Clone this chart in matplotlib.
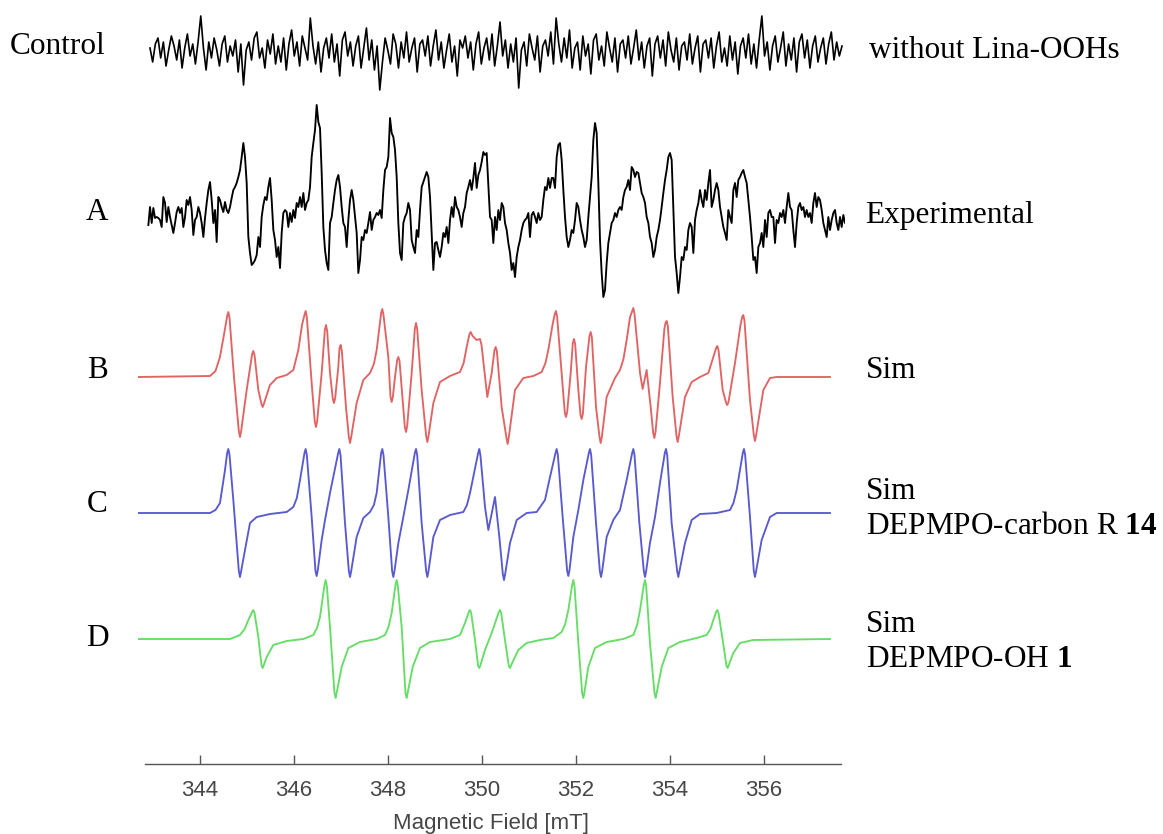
import numpy as np
import matplotlib
matplotlib.use("Agg")
import matplotlib.pyplot as plt

plt.rcParams['mathtext.fontset'] = 'custom'
plt.rcParams['mathtext.rm'] = 'Liberation Serif'
plt.rcParams['mathtext.bf'] = 'Liberation Serif:bold'

# ---------------- data (field in mT, signal in arbitrary units) ----------------
tick_values = [344, 346, 348, 350, 352, 354, 356]
x_label = "Magnetic Field [mT]"

row_letters = ["A", "B", "C", "D"]
right_labels = ["without Lina-OOHs", "Experimental", "Sim",
                "Sim\nDEPMPO-carbon R $\\mathbf{14}$", "Sim\nDEPMPO-OH $\\mathbf{1}$"]

control_start, control_stop = 342.936, 357.660
control_signal = [
    4, -10, 8, 14, -6, 10, -14, 2, 16, 6,
    -8, 12, -16, 4, 18, -4, 8, -12, 10, 36,
    4, -18, 10, -6, 14, 2, -14, 8, 16, -10,
    6, -4, 12, -20, 8, -33, 2, 10, -8, 14,
    20, -6, 4, -16, 12, -2, 18, -12, 6, -10,
    14, -18, 8, 22, -4, 10, -14, 16, 4, -8,
    34, 6, -12, 10, -20, 4, 14, -6, 18, -10,
    8, -24, 12, 20, -4, 10, -14, 6, 16, -16,
    4, 24, -8, 12, -18, 6, -38, -10, 14, 2,
    -12, 18, 8, -16, 10, -6, 20, -10, 4, 14,
    -20, 8, 12, -4, 16, -14, 6, 22, -8, 10,
    -16, 2, 18, -10, 6, -24, 12, 4, 16, -6,
    10, -18, 8, 20, -12, 4, 14, -8, 18, -14,
    6, 30, -4, 12, -16, 8, -10, 14, -36, 2,
    10, -14, 18, 4, -8, 16, -20, 6, 12, -4,
    20, -12, 34, 8, -10, 14, -6, 22, -16, 4,
    10, -18, 16, -4, 8, -22, 12, 18, -8, 6,
    -14, 20, 4, -10, 14, -20, 8, 12, -6, 16,
    -12, 4, 22, -8, 10, -16, 6, 14, -24, 8,
    16, -6, 12, -14, 20, 2, -10, 14, -18, 6,
    10, -8, 18, -12, 4, 16, -20, 8, 12, -6,
    14, -16, 6, 20, -10, 4, -14, 16, -8, 10,
    -22, 6, 14, -6, 18, -12, 8, -16, 12, 36,
    -4, 10, -18, 6, 16, -10, 4, 20, -14, 8,
    -8, 14, -20, 10, 18, -6, 12, -16, 6, 16,
    -10, 4, 14, -12, 8, 20, -8, 10, -4, 6]

exp_start, exp_stop = 342.901, 357.759
exp_signal = [
    -13, 5, -11, 4, -6, -5, -6, -8, -15, 15,
    9, -10, 5, -5, -13, -21, -11, 0, 5, -1,
    4, -15, -5, 12, 7, 15, 2, -23, -8, -5,
    5, -1, -11, -25, -6, 9, 22, 30, 12, -11,
    2, -30, 15, 12, 5, 0, 10, 2, -1, 5,
    14, 22, 25, 29, 35, 42, 55, 69, 55, 29,
    -25, -41, -53, -51, -48, -43, -25, -35, -5, 7,
    15, 12, 25, 34, 12, -18, -28, -45, -35, -56,
    -21, -1, 2, 0, -15, -1, -10, 2, -6, 9,
    5, 15, 5, 19, 2, 9, 12, 25, 55, 69,
    82, 107, 90, 84, 39, -15, -38, -51, -58, -11,
    -5, 9, 22, 32, 37, 25, 5, -11, -15, -35,
    -8, 12, 22, 12, -5, -21, -61, -48, -25, -28,
    -18, -21, -11, 0, -18, -8, -5, -1, -3, 2,
    -6, 22, 42, 45, 55, 94, 79, 75, 62, 35,
    -11, -41, -48, -11, -5, -1, 9, 2, -28, -35,
    -41, -18, -25, 2, 25, 30, 35, 40, 35, 15,
    -21, -58, -31, -30, -38, -45, -35, -21, -25, -15,
    -31, -8, 5, -5, 15, 5, 2, -5, -15, -1,
    5, 19, 25, 32, 22, 34, 49, 24, 37, 42,
    50, 60, 57, 59, 27, -5, -8, -31, -5, -18,
    2, -8,
    9, 5, -11, -18, -31, -41, -58, -51, -65, -45,
    -35, -28, -18, -11, -8, -6, -1, -25, -3, 0,
    -5, -11, -1, -8, -5, 12, 25, 22, 34, 24,
    34, 34, 24, 55, 67, 69, 52, 22, -5, -25,
    -35, -28, -18, -21, -8, 9, 5, -8, -18, -25,
    -35, -28, -5, 15, 35, 72, 89, 79, 29, -28,
    -61, -85, -78, -51, -31, -21, -11, -8, -1, -5,
    2, 5, 2, 15, 22, 25, 32, 22, 45, 42,
    35, 40, 39, 29, 19, 15, 9, -5, -11, -25,
    -31, -45, -38, -25, -18, -8, 5, 19, 32, 42,
    55, 59, 52, 5, -45, -61, -81, -65, -45, -48,
    -35, -38, -18, -11, -15, -41, -8, 2, 9, 22,
    12, 5, 22, 12, 29, 42, 5, 12, 22, 29,
    22, 5, -5, -15, -21, -28, 2, -5, -11, 22,
    29, 15, 32, 35, 39, 42, 35, 29, 12, -5,
    -25, -48, -45, -61, -35, -31, -21, -35, -8, -25,
    -1, 2, -5, -5, -31, -8, -11, -1, -5, 2,
    -11, 5, 19, 5, 2, -18, -35, -11, 5, 9,
    2, 5, -5, 2, -5, -1, -11, 9, 19, 5,
    15, 12, 2, -11, -18, -25, -5, -18, -8, -1,
    2, -11, -18, -5, -15, -3, -11, -8]

# simulated spectra: (field mT, signal) points
b_points = [
    (342.688, 0), (344.213, 1), (344.330, 6), (344.425, 20), (344.520, 45), (344.578, 61),
    (344.603, 65), (344.628, 59), (344.723, 0), (344.826, -54), (344.851, -60), (344.876, -54),
    (344.993, -13), (345.110, 23), (345.135, 26), (345.160, 22), (345.241, -13), (345.308, -27),
    (345.333, -30), (345.358, -27), (345.489, -8), (345.631, -1), (345.844, 2), (345.986, 7),
    (346.092, 27), (346.170, 52), (346.223, 62), (346.248, 66), (346.273, 60), (346.376, -6),
    (346.443, -45), (346.468, -50), (346.493, -44), (346.589, 4), (346.656, 47), (346.681, 52),
    (346.706, 46), (346.766, 4), (346.826, -22), (346.851, -26), (346.876, -21), (346.943, 10),
    (346.968, 29), (346.993, 32), (347.018, 26), (347.106, -30), (347.167, -60), (347.192, -66),
    (347.217, -60), (347.333, -26), (347.475, -3), (347.617, 4), (347.700, 13), (347.759, 27),
    (347.830, 55), (347.854, 64), (347.879, 68), (347.904, 62), (348.007, 20), (348.053, -20),
    (348.078, -25), (348.103, -20), (348.149, 0), (348.195, 17), (348.220, 20), (348.245, 16),
    (348.312, -23), (348.358, -50), (348.383, -55), (348.408, -49), (348.504, 4), (348.571, 48),
    (348.596, 54), (348.621, 48), (348.716, -13), (348.812, -59), (348.837, -65), (348.862, -59),
    (348.965, -26), (349.106, -5), (349.319, 1), (349.532, 5), (349.610, 14), (349.674, 30),
    (349.734, 43), (349.759, 45), (349.800, 41), (349.887, 37), (349.957, 38), (349.990, 32),
    (350.113, -20), (350.206, 4), (350.266, 27), (350.291, 30), (350.316, 26), (350.418, -30),
    (350.521, -61), (350.546, -67), (350.571, -60), (350.702, -13), (350.879, -1), (351.092, 1),
    (351.270, 5), (351.350, 14), (351.411, 27), (351.500, 52), (351.549, 63), (351.574, 66),
    (351.599, 60), (351.695, 4), (351.762, -36), (351.787, -40), (351.812, -35), (351.887, 4),
    (351.932, 34), (351.957, 38), (351.982, 33), (352.050, -13), (352.096, -38), (352.121, -42),
    (352.146, -37), (352.213, 10), (352.287, 41), (352.312, 45), (352.337, 40), (352.426, -30),
    (352.500, -60), (352.525, -66), (352.550, -60), (352.652, -20), (352.830, -1), (352.936, 7),
    (353.010, 18), (353.078, 37), (353.150, 60), (353.195, 66), (353.220, 69), (353.245, 63),
    (353.362, 4), (353.418, -12), (353.503, 7), (353.589, -30), (353.642, -56), (353.667, -61),
    (353.692, -55), (353.787, -6), (353.880, 48), (353.904, 54), (353.929, 56), (353.954, 51),
    (354.057, -20), (354.138, -59), (354.163, -65), (354.188, -59), (354.319, -20), (354.461, -5),
    (354.638, 0), (354.816, 4), (354.922, 20), (354.982, 29), (355.007, 31), (355.032, 27),
    (355.121, -13), (355.195, -26), (355.220, -28), (355.245, -25), (355.383, 14), (355.500, 52),
    (355.535, 60), (355.560, 62), (355.585, 56), (355.702, -23), (355.783, -58), (355.808, -64),
    (355.833, -58), (355.986, -13), (356.128, -1), (356.270, 0), (357.404, 0)]

c_points = [
    (342.688, 0), (344.213, 0), (344.330, 3), (344.425, 10), (344.532, 43), (344.578, 60),
    (344.603, 64), (344.628, 58), (344.709, 13), (344.826, -58), (344.851, -64), (344.876, -58),
    (344.957, -37), (345.064, -10), (345.206, -4), (345.489, -1), (345.844, 1), (345.986, 6),
    (346.060, 15), (346.128, 33), (346.223, 60), (346.248, 64), (346.273, 58), (346.376, -4),
    (346.457, -58), (346.482, -63), (346.507, -57), (346.589, -27), (346.660, -7), (346.766, 20),
    (346.940, 60), (346.965, 64), (346.990, 58), (347.085, -10), (347.167, -58), (347.192, -64),
    (347.217, -58), (347.333, -24), (347.475, -5), (347.617, 1), (347.700, 8), (347.759, 20),
    (347.854, 60), (347.879, 64), (347.904, 58), (348.007, -4), (348.088, -58), (348.113, -64),
    (348.138, -58), (348.220, -30), (348.326, -4), (348.433, 23), (348.571, 60), (348.596, 64),
    (348.621, 58), (348.716, -10), (348.812, -58), (348.837, -64), (348.862, -58), (348.965, -24),
    (349.106, -7), (349.319, -2), (349.603, 1), (349.680, 8), (349.745, 20), (349.918, 60),
    (349.943, 64), (349.968, 57), (350.064, 6), (350.135, -17), (350.277, 16), (350.369, -24),
    (350.443, -61), (350.468, -67), (350.493, -61), (350.596, -30), (350.738, -7), (350.950, 0),
    (351.163, 1), (351.340, 13), (351.447, 36), (351.564, 60), (351.589, 64), (351.614, 58),
    (351.716, -4), (351.812, -58), (351.837, -63), (351.862, -57), (351.943, -24), (352.050, 3),
    (352.156, 33), (352.273, 60), (352.298, 64), (352.323, 58), (352.426, -10), (352.507, -58),
    (352.532, -64), (352.557, -58), (352.652, -24), (352.794, -7), (352.936, 3), (353.078, 33),
    (353.195, 60), (353.220, 64), (353.245, 58), (353.348, -10), (353.443, -58), (353.468, -64),
    (353.493, -58), (353.574, -30), (353.681, -4), (353.787, 30), (353.890, 60), (353.915, 64),
    (353.940, 58), (354.035, -10), (354.152, -58), (354.177, -64), (354.202, -58), (354.319, -30),
    (354.461, -7), (354.638, -1), (354.993, 0), (355.277, 3), (355.350, 10), (355.418, 23),
    (355.549, 60), (355.574, 64), (355.599, 58), (355.702, -4), (355.783, -58), (355.808, -64),
    (355.833, -58), (355.950, -27), (356.128, -4), (356.270, 0), (357.404, 0)]

d_points = [
    (342.688, 0), (344.638, 0), (344.851, 4), (344.950, 10), (345.028, 19), (345.110, 27),
    (345.135, 29), (345.160, 26), (345.241, 2), (345.308, -26), (345.333, -29), (345.358, -26),
    (345.418, -18), (345.560, -6), (345.844, -2), (346.199, 0), (346.411, 4), (346.490, 11),
    (346.553, 22), (346.649, 54), (346.674, 59), (346.699, 53), (346.766, 12), (346.861, -54),
    (346.886, -59), (346.911, -53), (347.014, -28), (347.156, -9), (347.404, -3), (347.759, 0),
    (347.936, 4), (348.010, 12), (348.078, 26), (348.159, 54), (348.184, 59), (348.209, 53),
    (348.291, 12), (348.372, -54), (348.397, -59), (348.422, -53), (348.525, -28), (348.681, -9),
    (348.894, -3), (349.319, 0), (349.532, 4), (349.638, 16), (349.720, 27), (349.745, 29),
    (349.770, 26), (349.851, -1), (349.918, -27), (349.943, -29), (349.968, -26), (350.064, -11),
    (350.206, 6), (350.358, 27), (350.383, 29), (350.408, 26), (350.489, -1), (350.571, -27),
    (350.596, -29), (350.621, -26), (350.773, -11), (350.950, -4), (351.234, -1), (351.518, 1),
    (351.695, 7), (351.770, 15), (351.837, 29), (351.918, 54), (351.943, 59), (351.968, 53),
    (352.050, -4), (352.131, -54), (352.156, -59), (352.181, -53), (352.262, -28), (352.404, -9),
    (352.652, -3), (353.007, 0), (353.220, 4), (353.300, 14), (353.362, 29), (353.443, 54),
    (353.468, 59), (353.493, 53), (353.574, -4), (353.670, -54), (353.695, -59), (353.720, -53),
    (353.823, -28), (353.965, -9), (354.213, -3), (354.567, 1), (354.780, 4), (354.860, 10),
    (354.922, 19), (354.982, 27), (355.007, 29), (355.032, 26), (355.121, -1), (355.202, -27),
    (355.227, -29), (355.252, -26), (355.348, -14), (355.489, -4), (355.773, -1), (357.404, 0)]

b_field, b_signal = [p[0] for p in b_points], [p[1] for p in b_points]
c_field, c_signal = [p[0] for p in c_points], [p[1] for p in c_points]
d_field, d_signal = [p[0] for p in d_points], [p[1] for p in d_points]

# ---------------- figure ----------------
W, H = 1163, 834
fig = plt.figure(figsize=(W / 100, H / 100), dpi=100)

def px_to_field(px):
    return 344 + (px - 200) / 47.0

x_left, x_right = 138, 845
axis_y = 764
ax = fig.add_axes([x_left / W, (H - axis_y) / H, (x_right - x_left) / W, axis_y / H])
ax.set_xlim(px_to_field(x_left), px_to_field(x_right))
ax.set_ylim(0, axis_y)

off_control = axis_y - 52
off_a = axis_y - 212
off_b = axis_y - 377
off_c = axis_y - 513
off_d = axis_y - 639

lw = 1.35
ctrl_field = np.linspace(control_start, control_stop, len(control_signal))
ax.plot(ctrl_field, np.array(control_signal) + off_control, color='black', lw=1.2)
exp_field = np.linspace(exp_start, exp_stop, len(exp_signal))
ax.plot(exp_field, np.array(exp_signal) + off_a, color='black', lw=lw)
ax.plot(b_field, np.array(b_signal) + off_b, color='#e06464', lw=lw)
ax.plot(c_field, np.array(c_signal) + off_c, color='#5a5ad0', lw=lw)
ax.plot(d_field, np.array(d_signal) + off_d, color='#66dd66', lw=lw)

for s in ['left', 'top', 'right']:
    ax.spines[s].set_visible(False)
ax.spines['bottom'].set_color('#555555')
ax.spines['bottom'].set_linewidth(1.0)
ax.spines['bottom'].set_bounds(px_to_field(145), px_to_field(841))
ax.set_yticks([])
ax.set_xticks(tick_values)
ax.set_xticklabels([str(t) for t in tick_values], family='Liberation Sans',
                   fontsize=16, color='#474747')
ax.tick_params(axis='x', direction='in', length=6.5, width=1.0, color='#555555', pad=11.5)
ax.set_xlabel(x_label, family='Liberation Sans', fontsize=16, color='#474747', labelpad=9)
ax.patch.set_alpha(0)

serif = 'Liberation Serif'
fs = 22.5

def ftext(x, y, s, ha='left', va='center', **kw):
    fig.text(x / W, 1 - y / H, s, ha=ha, va=va, family=serif, fontsize=fs, **kw)

ftext(10, 46, "Control")
ftext(869, 50, right_labels[0])
for letter, yy in zip(row_letters, [212, 370, 505, 638]):
    ftext(97, yy, letter, ha='center')
ftext(865, 215, right_labels[1])
ftext(866, 370, right_labels[2])
ftext(866, 509, right_labels[3], linespacing=1.3)
ftext(866, 642, right_labels[4], linespacing=1.3)

fig.savefig("out.png", dpi=100)
